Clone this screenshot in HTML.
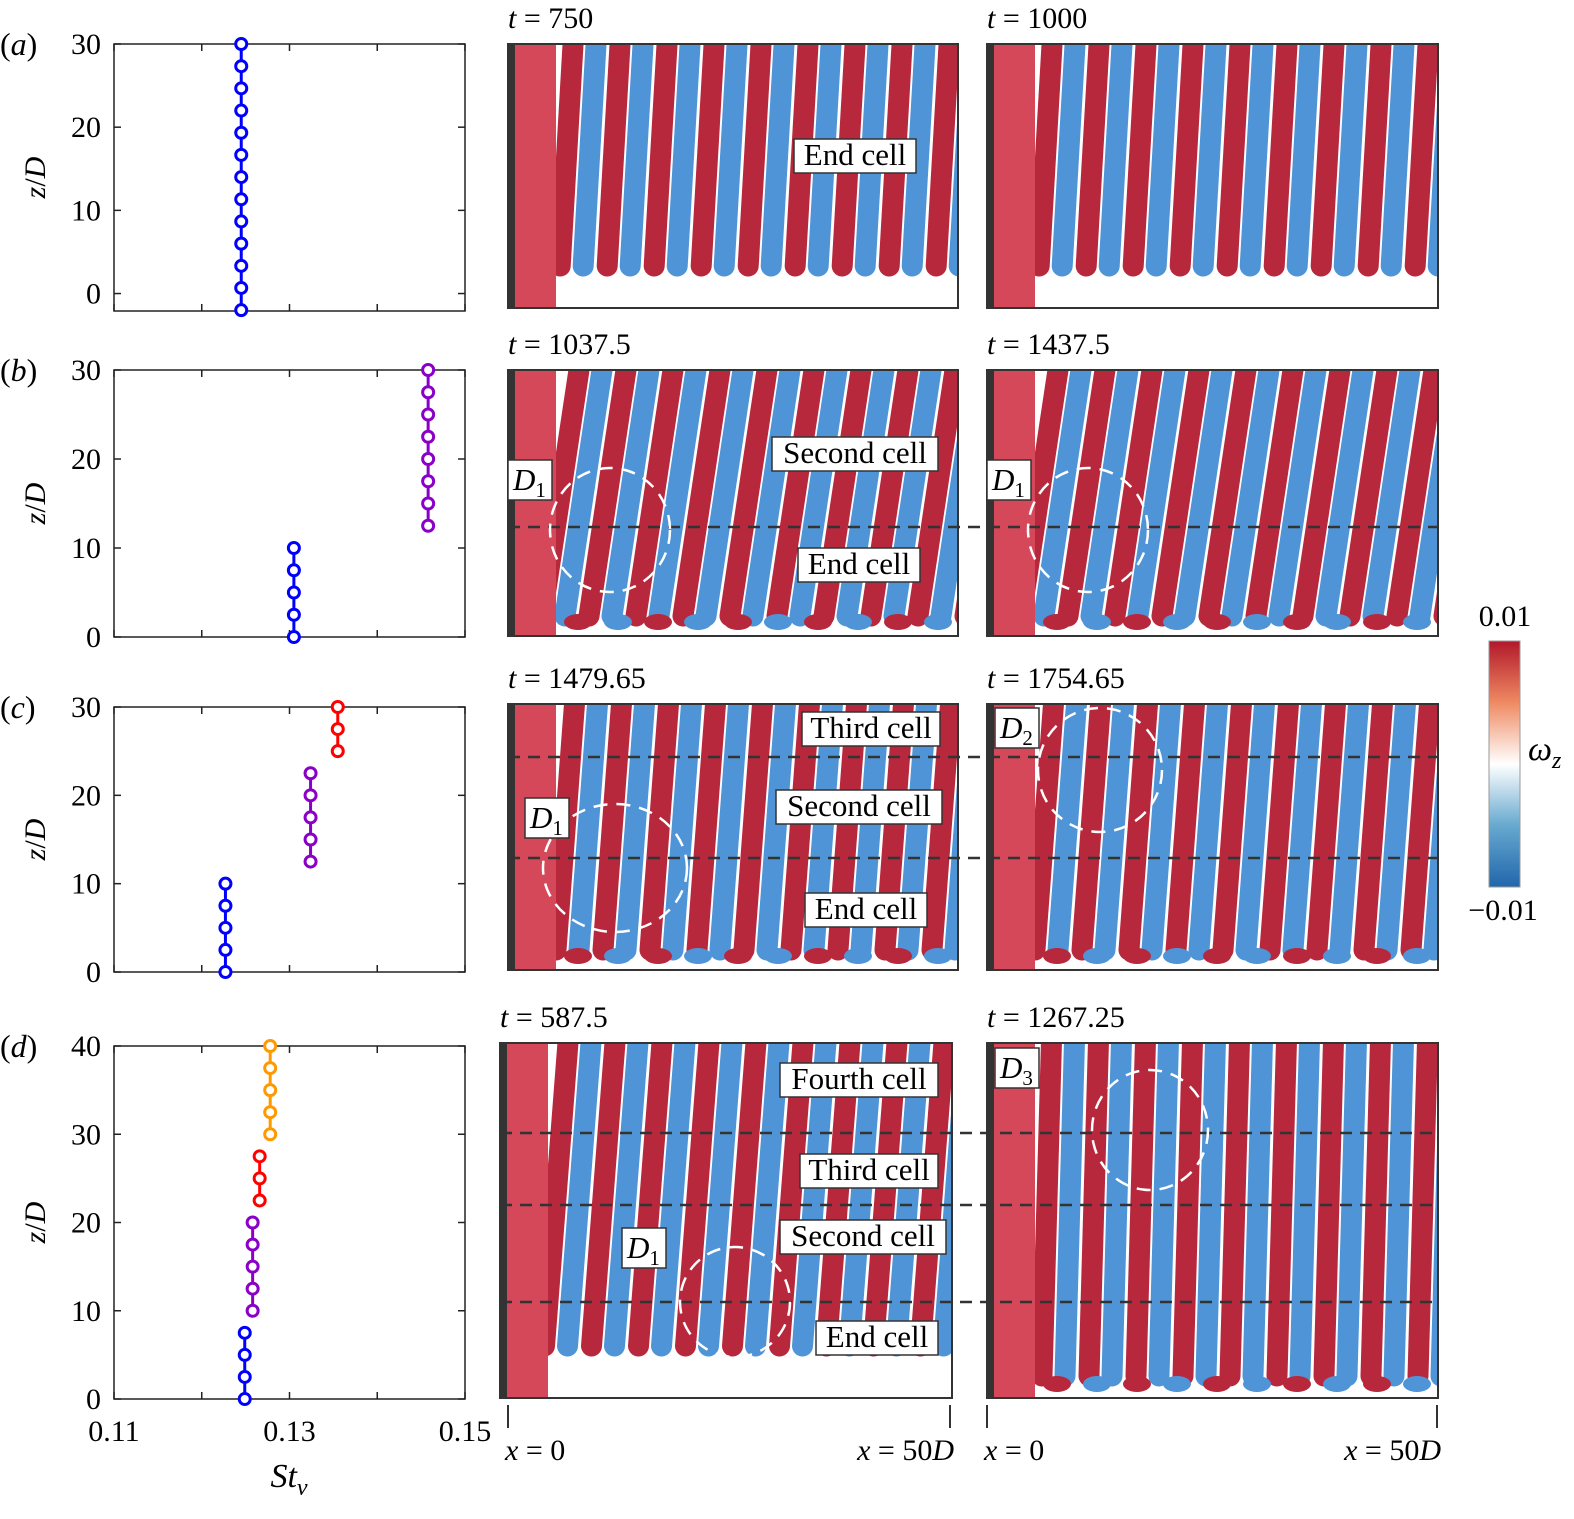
<!DOCTYPE html>
<html><head><meta charset="utf-8">
<style>
html,body{margin:0;padding:0;background:#fff;overflow:hidden;width:1574px;height:1519px;}
svg{display:block;font-family:"Liberation Serif",serif;}
</style></head>
<body>
<svg id="fig" width="1574" height="1519" viewBox="0 0 1574 1519" xmlns="http://www.w3.org/2000/svg">
<defs>
<linearGradient id="cbar" x1="0" y1="0" x2="0" y2="1">
<stop offset="0" stop-color="#b2182b"/><stop offset="0.25" stop-color="#ef8a62"/>
<stop offset="0.5" stop-color="#ffffff"/><stop offset="0.75" stop-color="#67a9cf"/>
<stop offset="1" stop-color="#2166ac"/></linearGradient>
</defs>
<g id="charts"></g>
<g id="images"></g>
<g id="overlay"></g>
</svg>
<script>
// ---- chart data ----
const xTicks = [0.11, 0.12, 0.13, 0.14, 0.15];
const xTickLabels = ['0.11', '', '0.13', '', '0.15'];
const aBlueSt = [0.1245];
const aBlueZ = [-2, 0.67, 3.33, 6, 8.67, 11.33, 14, 16.67, 19.33, 22, 24.67, 27.33, 30];
const bBlueSt = [0.1305];
const bBlueZ = [0, 2.5, 5, 7.5, 10];
const bPurpleSt = [0.1458];
const bPurpleZ = [12.5, 15, 17.5, 20, 22.5, 25, 27.5, 30];
const cBlueSt = [0.1227];
const cBlueZ = [0, 2.5, 5, 7.5, 10];
const cPurpleSt = [0.1324];
const cPurpleZ = [12.5, 15, 17.5, 20, 22.5];
const cRedSt = [0.1355];
const cRedZ = [25, 27.5, 30];
const dBlueSt = [0.1249];
const dBlueZ = [0, 2.5, 5, 7.5];
const dPurpleSt = [0.1258];
const dPurpleZ = [10, 12.5, 15, 17.5, 20];
const dRedSt = [0.1266];
const dRedZ = [22.5, 25, 27.5];
const dOrangeSt = [0.1278];
const dOrangeZ = [30, 32.5, 35, 37.5, 40];

const NS = 'http://www.w3.org/2000/svg';
function mk(tag, attrs, parent, txt) {
  const e = document.createElementNS(NS, tag);
  for (const k in attrs) e.setAttribute(k, attrs[k]);
  if (txt !== undefined) e.textContent = txt;
  parent.appendChild(e);
  return e;
}
const charts = document.getElementById('charts');
const X0 = 114, X1 = 465;
function xs(v) { return X0 + (v - 0.11) / 0.04 * (X1 - X0); }

const panels = [
  {id:'a', top:44, bot:311, zmin:-2.1, zmax:30, yt:[0,10,20,30], series:[[aBlueSt,aBlueZ,'#0000ff']]},
  {id:'b', top:370, bot:637, zmin:0, zmax:30, yt:[0,10,20,30], series:[[bBlueSt,bBlueZ,'#0000ff'],[bPurpleSt,bPurpleZ,'#8b00c8']]},
  {id:'c', top:707, bot:972, zmin:0, zmax:30, yt:[0,10,20,30], series:[[cBlueSt,cBlueZ,'#0000ff'],[cPurpleSt,cPurpleZ,'#8b00c8'],[cRedSt,cRedZ,'#ff0000']]},
  {id:'d', top:1046, bot:1399, zmin:0, zmax:40, yt:[0,10,20,30,40], series:[[dBlueSt,dBlueZ,'#0000ff'],[dPurpleSt,dPurpleZ,'#8b00c8'],[dRedSt,dRedZ,'#ff0000'],[dOrangeSt,dOrangeZ,'#ff9900']]}
];
panels.forEach(p => {
  const g = mk('g', {}, charts);
  
  
  const ys = z => p.bot - (z - p.zmin) / (p.zmax - p.zmin) * (p.bot - p.top);
  const box = mk('rect', {x:X0, y:p.top, width:X1-X0, height:p.bot-p.top, fill:'none', stroke:'#222', 'stroke-width':1.5}, g);
  
  
  xTicks.forEach(t => {
    const x = xs(t);
    mk('line', {x1:x, y1:p.bot, x2:x, y2:p.bot-7, stroke:'#222','stroke-width':1.5}, g);
    mk('line', {x1:x, y1:p.top, x2:x, y2:p.top+7, stroke:'#222','stroke-width':1.5}, g);
  });
  p.yt.forEach(t => {
    const y = ys(t);
    mk('line', {x1:X0, y1:y, x2:X0+7, y2:y, stroke:'#222','stroke-width':1.5}, g);
    mk('line', {x1:X1, y1:y, x2:X1-7, y2:y, stroke:'#222','stroke-width':1.5}, g);
    const lb = mk('text', {x:101, y:y+10, 'font-size':30, 'text-anchor':'end'}, g, String(t));
    
    
  });
  const yl = mk('text', {x:0, y:0, 'font-size':30, 'text-anchor':'middle', transform:`translate(45,${(p.top+p.bot)/2}) rotate(-90)`}, g);
  
  
  mk('tspan', {'font-style':'italic'}, yl, 'z');
  mk('tspan', {}, yl, '/');
  mk('tspan', {'font-style':'italic'}, yl, 'D');
  const pl = mk('text', {x:0, y:p.top+11, 'font-size':32}, g);
  
  
  mk('tspan', {}, pl, '(');
  mk('tspan', {'font-style':'italic'}, pl, p.id);
  mk('tspan', {}, pl, ')');
  p.series.forEach(s => {
    const [st, zz, col] = s;
    const x = xs(st[0]);
    const ln = mk('line', {x1:x, y1:ys(Math.min(...zz)), x2:x, y2:ys(Math.max(...zz)), stroke:col, 'stroke-width':3}, g);
    
    
    zz.forEach(z => {
      const c = mk('circle', {cx:x, cy:ys(z), r:5.5, fill:'#fff', stroke:col, 'stroke-width':3}, g);
      
      
    });
  });
  if (p.id === 'd') {
    xTicks.forEach((t, i) => {
      if (!xTickLabels[i]) return;
      const lb = mk('text', {x:xs(t), y:1441, 'font-size':30, 'text-anchor':'middle'}, g, xTickLabels[i]);
      
      
    });
  }
});
const xt = mk('text', {x:289, y:1487, 'font-size':34, 'text-anchor':'middle', 'font-style':'italic'}, charts);


xt.textContent = 'St';
mk('tspan', {'font-size':24, dy:8}, xt, 'v');

// ---- images (stylized vortex renders) ----
const images = document.getElementById('images');
const RED = '#b8283c', BLUE = '#4f94d6', LRED = '#d4485a';
const imgs = [
  {n:'a1', x:508, y:44, w:450, h:264, t:'750', sk:14, gap:30},
  {n:'a2', x:987, y:44, w:451, h:264, t:'1000', sk:14, gap:30},
  {n:'b1', x:508, y:370, w:450, h:266, t:'1037.5', sk:40, gap:8, blobs:true},
  {n:'b2', x:987, y:370, w:451, h:266, t:'1437.5', sk:40, gap:8, blobs:true},
  {n:'c1', x:508, y:704, w:450, h:266, t:'1479.65', sk:20, gap:8, blobs:true},
  {n:'c2', x:987, y:704, w:451, h:266, t:'1754.65', sk:20, gap:8, blobs:true},
  {n:'d1', x:500, y:1043, w:452, h:355, t:'587.5', sk:25, gap:40},
  {n:'d2', x:987, y:1043, w:451, h:355, t:'1267.25', sk:10, gap:10, blobs:true}
];
imgs.forEach((im, idx) => {
  const g = mk('g', {}, images);
  
  
  const cid = 'clip' + idx;
  const cp = mk('clipPath', {id:cid}, g);
  mk('rect', {x:im.x, y:im.y, width:im.w, height:im.h}, cp);
  const inner = mk('g', {'clip-path':`url(#${cid})`}, g);
  mk('rect', {x:im.x, y:im.y, width:im.w, height:im.h, fill:'#fff'}, inner);
  const period = 47;
  for (let k = 0; k < 11; k++) {
    const bx = im.x + 62 + k * period;
    [[0, RED], [23, BLUE]].forEach(([off, col]) => {
      const x = bx + off;
      mk('line', {x1:x + im.sk*0.3, y1:im.y - 20, x2:x - im.sk*0.7, y2:im.y + im.h - im.gap - 12,
        stroke:col, 'stroke-width':21, 'stroke-linecap':'round'}, inner);
    });
  }
  mk('rect', {x:im.x, y:im.y, width:48, height:im.h, fill:LRED}, inner);
  mk('rect', {x:im.x, y:im.y, width:7, height:im.h, fill:'#333'}, inner);
  if (im.blobs) {
    for (let k = 0; k < 10; k++) {
      mk('ellipse', {cx:im.x + 70 + k*40, cy:im.y + im.h - 14, rx:14, ry:8, fill: k%2 ? BLUE : RED}, inner);
    }
  }
  mk('rect', {x:im.x, y:im.y, width:im.w, height:im.h, fill:'none', stroke:'#333', 'stroke-width':2}, g);
  const tl = mk('text', {x:im.x, y:im.y - 16, 'font-size':30}, g);
  
  
  mk('tspan', {'font-style':'italic'}, tl, 't');
  mk('tspan', {}, tl, ' = ' + im.t);
});

// ---- overlays: dashed lines, cell labels, D labels ----
const ov = document.getElementById('overlay');
[[508,1438,527],[508,1438,757],[508,1438,858],[500,1438,1133],[500,1438,1205],[500,1438,1302]].forEach(d => {
  const l = mk('line', {x1:d[0], y1:d[2], x2:d[1], y2:d[2], stroke:'#333', 'stroke-width':2.5, 'stroke-dasharray':'12 8'}, ov);
  
  
});
[[610,530,60,62],[1088,530,60,62],[615,868,72,64],[1100,770,62,62],[735,1302,55,55],[1150,1130,58,60]].forEach(c => {
  const e = mk('ellipse', {cx:c[0], cy:c[1], rx:c[2], ry:c[3], fill:'none', stroke:'#fff', 'stroke-width':2.5, 'stroke-dasharray':'14 9'}, ov);
  
  
});
function boxLabel(x, y, w, h, txt, name) {
  const g = mk('g', {}, ov);
  
  
  mk('rect', {x:x, y:y, width:w, height:h, fill:'#fff', stroke:'#333', 'stroke-width':1.5}, g);
  mk('text', {x:x + w/2, y:y + h - 8, 'font-size':31, 'text-anchor':'middle'}, g, txt);
}
boxLabel(794,139,122,34,'End cell','end-cell-label');
boxLabel(772,437,166,34,'Second cell','second-cell-label');
boxLabel(798,548,122,34,'End cell','end-cell-label');
boxLabel(802,712,138,34,'Third cell','third-cell-label');
boxLabel(776,790,166,34,'Second cell','second-cell-label');
boxLabel(805,893,122,34,'End cell','end-cell-label');
boxLabel(780,1063,158,34,'Fourth cell','fourth-cell-label');
boxLabel(800,1154,138,34,'Third cell','third-cell-label');
boxLabel(780,1220,166,34,'Second cell','second-cell-label');
boxLabel(816,1321,122,34,'End cell','end-cell-label');
function dLabel(x, y, sub) {
  const g = mk('g', {}, ov);
  
  
  mk('rect', {x:x, y:y, width:44, height:40, fill:'#fff', stroke:'#333', 'stroke-width':1.5}, g);
  const t = mk('text', {x:x + 5, y:y + 30, 'font-size':31}, g);
  mk('tspan', {'font-style':'italic'}, t, 'D');
  mk('tspan', {'font-size':21, dy:7}, t, sub);
}
dLabel(508,460,'1'); dLabel(987,460,'1'); dLabel(525,798,'1'); dLabel(995,708,'2'); dLabel(622,1228,'1'); dLabel(995,1048,'3');

// colorbar
const cb = mk('g', {}, ov);


mk('rect', {x:1489, y:641, width:31, height:246, fill:'url(#cbar)', stroke:'#999', 'stroke-width':1}, cb);
mk('text', {x:1505, y:626, 'font-size':30, 'text-anchor':'middle'}, cb, '0.01');
mk('text', {x:1503, y:920, 'font-size':30, 'text-anchor':'middle'}, cb, '\u22120.01');
const wz = mk('text', {x:1528, y:760, 'font-size':34, 'font-style':'italic'}, cb, '\u03C9');
mk('tspan', {'font-size':24, dy:8}, wz, 'z');

// x position markers
[[508,950],[987,1437]].forEach(p => {
  const g = mk('g', {}, ov);
  
  
  p.forEach(x => mk('line', {x1:x, y1:1405, x2:x, y2:1428, stroke:'#333', 'stroke-width':2}, g));
  const t1 = mk('text', {x:p[0]-3, y:1460, 'font-size':30}, g);
  mk('tspan', {'font-style':'italic'}, t1, 'x');
  mk('tspan', {}, t1, ' = 0');
  const t2 = mk('text', {x:p[1]+4, y:1460, 'font-size':30, 'text-anchor':'end'}, g);
  mk('tspan', {'font-style':'italic'}, t2, 'x');
  mk('tspan', {}, t2, ' = 50');
  mk('tspan', {'font-style':'italic'}, t2, 'D');
});
</script>
</body></html>
